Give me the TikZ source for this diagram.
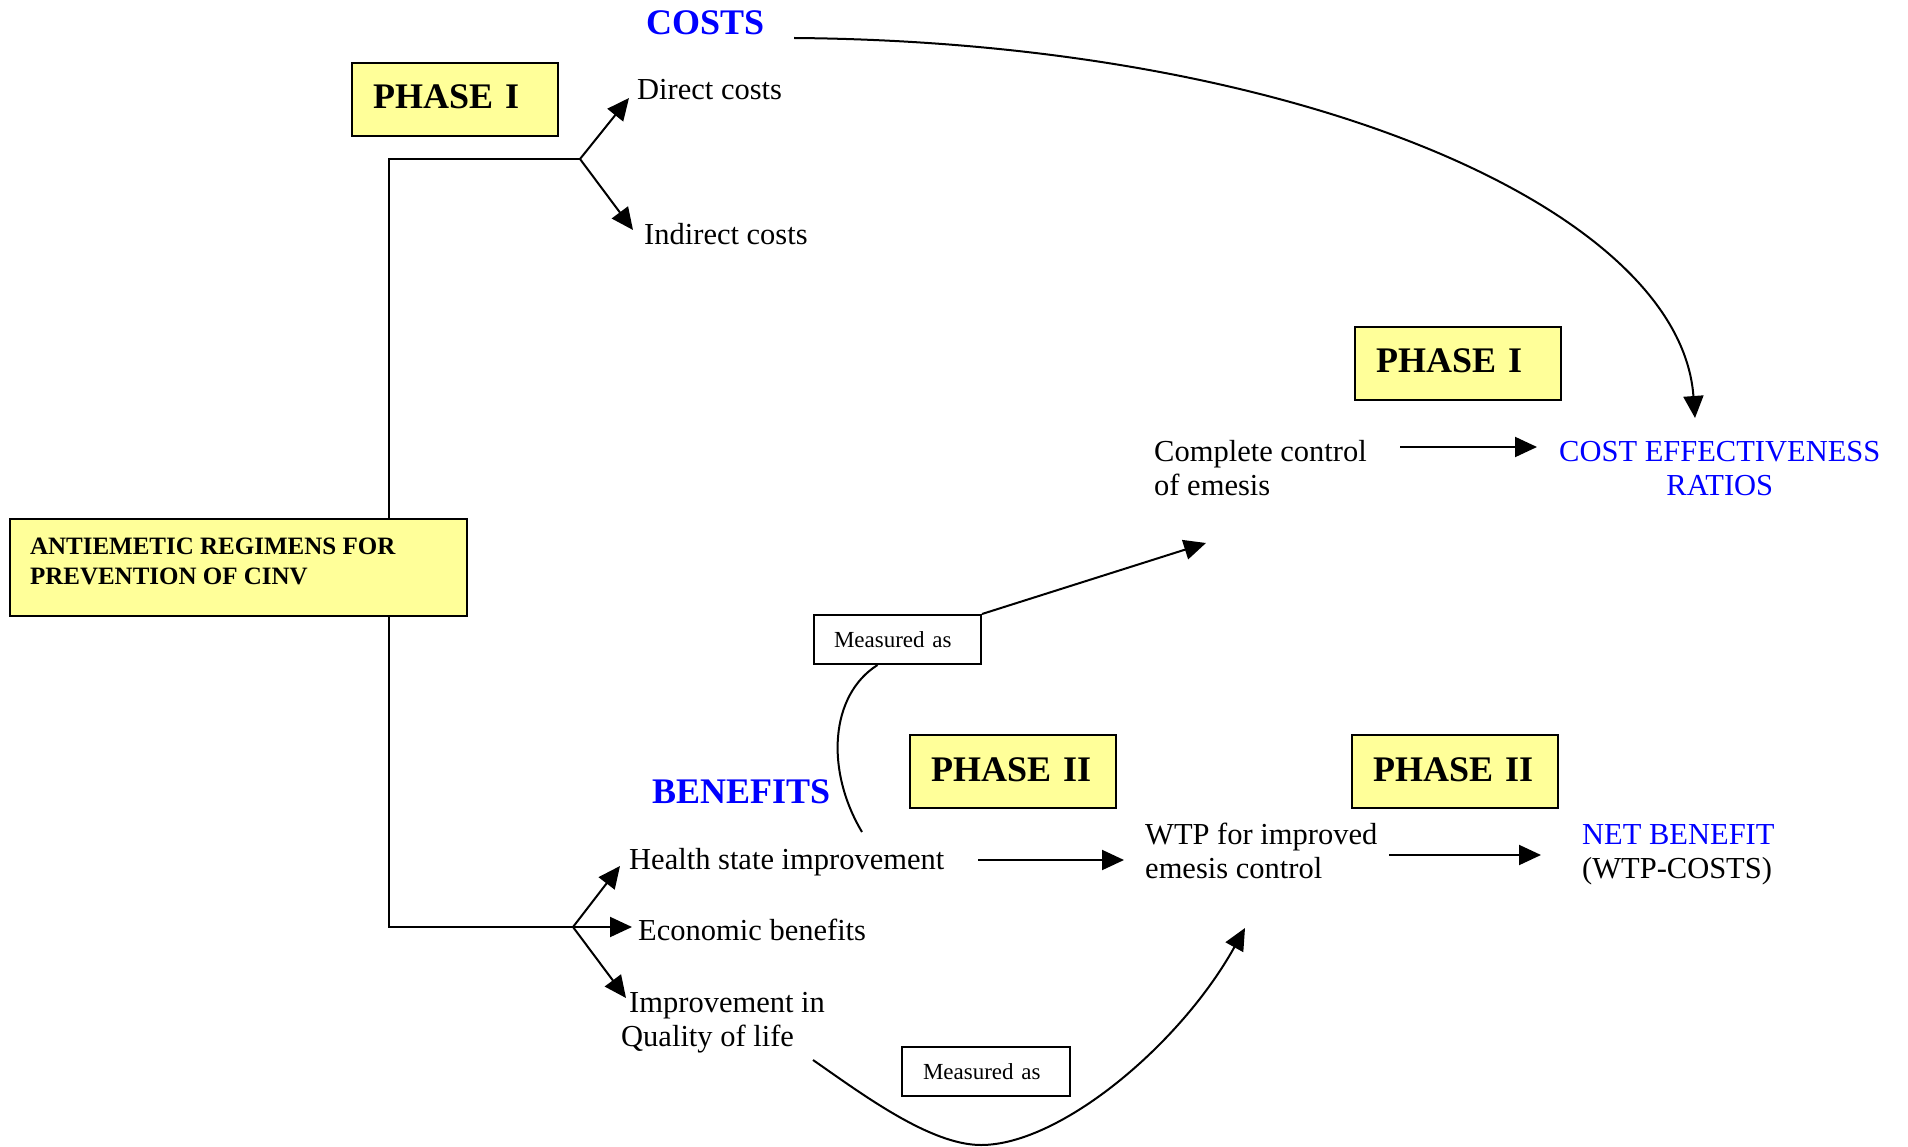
\documentclass[tikz,border=0pt]{standalone}
\usepackage{fontspec}
\setmainfont{Liberation Serif}
\usetikzlibrary{arrows.meta}
\definecolor{phaseyellow}{RGB}{255,255,153}
\definecolor{hdrblue}{RGB}{0,0,255}
\begin{document}
\begin{tikzpicture}[x=1pt,y=-1pt,
  lbl/.style={inner sep=0pt, anchor=base west, font=\fontsize{30.5}{34}\selectfont},
  hdr/.style={inner sep=0pt, anchor=base west, text=hdrblue, font=\fontsize{36}{40}\selectfont\bfseries},
  phasebox/.style={draw=black, line width=2pt, fill=phaseyellow, anchor=north west, inner xsep=21pt, inner ysep=0pt, text width=164pt, align=left, text height=46pt, text depth=27pt, font=\fontsize{36}{40}\selectfont\bfseries},
  measbox/.style={draw=black, line width=2pt, fill=white, anchor=north west, inner xsep=20pt, inner ysep=0pt, text width=127pt, align=left, text height=32pt, text depth=17pt, font=\fontsize{23}{27}\selectfont},
  conn/.style={line width=2pt},
  arr/.style={conn, -{Triangle[length=22pt,width=20pt]}},
]
\fill[white] (0,0) rectangle (1908,1147);
\useasboundingbox (0,0) rectangle (1908,1147);

% boxes
\node[phasebox] (ph1a) at (351,62) {PHASE I};
\node[phasebox] (ph1b) at (1354,326) {PHASE I};
\node[phasebox] (ph2a) at (909,734) {PHASE II};
\node[phasebox] (ph2b) at (1351,734) {PHASE II};
\node[draw=black, line width=2pt, fill=phaseyellow, anchor=north west, inner xsep=20pt, inner ysep=0pt, text height=35pt, text depth=62pt, font=\fontsize{25}{30}\selectfont\bfseries] (anti) at (9,518)
  {\makebox[417pt][l]{\begin{tabular}[t]{@{}l@{}}ANTIEMETIC REGIMENS FOR\\PREVENTION OF CINV\end{tabular}}};
\node[measbox] (meas1) at (813,614) {Measured as};
\node[measbox, inner xsep=21pt, text width=126pt] (meas2) at (901,1046) {Measured as};

% texts
\node[hdr] (costs) at (646,35) {COSTS};
\node[lbl] (direct) at (637,100) {Direct costs};
\node[lbl] (indirect) at (644,245) {Indirect costs};
\node[hdr] (benefits) at (652,803) {BENEFITS};
\node[lbl] (health) at (629,869) {Health state improvement};
\node[lbl] (econ) at (638,940) {Economic benefits};
\node[lbl] (qol) at (621,1012) {\begin{tabular}[t]{@{}l@{}}\hspace{8pt}Improvement in\\Quality of life\end{tabular}};
\node[lbl] (ccontrol) at (1154,461) {\begin{tabular}[t]{@{}l@{}}Complete control\\of emesis\end{tabular}};
\node[lbl] (wtp) at (1145,844) {\begin{tabular}[t]{@{}l@{}}WTP for improved\\emesis control\end{tabular}};
\node[lbl, text=hdrblue] (cer) at (1559,461) {\begin{tabular}[t]{@{}c@{}}COST EFFECTIVENESS\\RATIOS\end{tabular}};
\node[lbl] (net) at (1582,844) {\begin{tabular}[t]{@{}l@{}}\textcolor{hdrblue}{NET BENEFIT}\\(WTP-COSTS)\end{tabular}};

% connector points
\coordinate (cbr) at (580,159);
\coordinate (ctop) at (389,159);
\coordinate (cbot) at (389,927);
\coordinate (bbr) at (573,927);
\coordinate (dtip) at (629,98);
\coordinate (itip) at (633,230);
\coordinate (htip) at (620,866);
\coordinate (etip) at (632,927);
\coordinate (qtip) at (626,998);
\coordinate (hsrc) at (978,860);
\coordinate (wtip) at (1124,860);
\coordinate (wsrc) at (1389,855);
\coordinate (ntip) at (1541,855);
\coordinate (csrc) at (1400,447);
\coordinate (ctip) at (1537,447);
\coordinate (m1tip) at (1206,543);
\coordinate (hcurve) at (862,832);
\coordinate (costsrc) at (794,38);
\coordinate (cetip) at (1695,418);
\coordinate (qsrc) at (813,1060);
\coordinate (ubot) at (981,1145);
\coordinate (m2tip) at (1245,928);

% connectors
\draw[conn] (cbr) -- (ctop) -- (ctop |- anti.north);
\draw[conn] (anti.south -| cbot) -- (cbot) -- (bbr);
\draw[arr] (cbr) -- (dtip);
\draw[arr] (cbr) -- (itip);
\draw[arr] (bbr) -- (htip);
\draw[arr] (bbr) -- (etip);
\draw[arr] (bbr) -- (qtip);
\draw[arr] (hsrc) -- (wtip);
\draw[arr] (wsrc) -- (ntip);
\draw[arr] (csrc) -- (ctip);
\draw[arr] (meas1.north east) -- (m1tip);
\draw[conn] ([xshift=-20pt]meas1.south) .. controls (830,695) and (825,770) .. (hcurve);
\draw[arr] (costsrc) .. controls (1300,42) and (1680,210) .. (cetip);
\draw[conn] (qsrc) .. controls (862,1094) and (930,1145) .. (ubot);
\draw[arr] (ubot) .. controls (1060,1145) and (1180,1045) .. (m2tip);
\end{tikzpicture}
\end{document}
